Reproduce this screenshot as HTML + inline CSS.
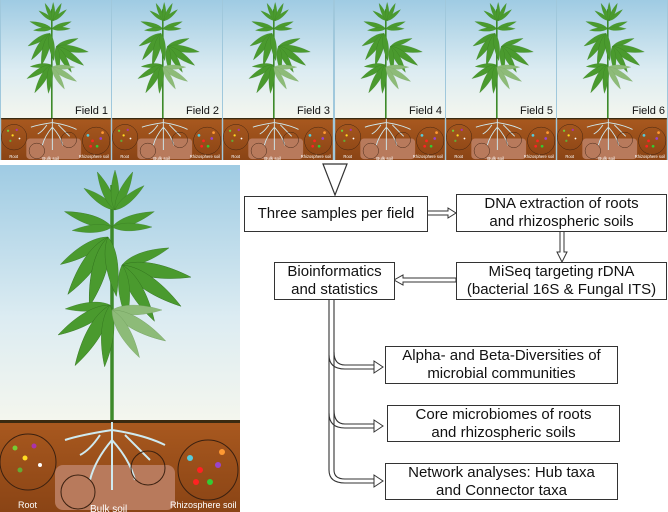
<!DOCTYPE html>
<html><head><meta charset="utf-8"><style>
body{margin:0;background:#fff;width:668px;height:512px;overflow:hidden;position:relative;font-family:"Liberation Sans",sans-serif}
.box{position:absolute;border:1.3px solid #333;background:#fff;text-align:center;font-size:15px;line-height:18px;color:#111;box-sizing:border-box;display:flex;align-items:center;justify-content:center}
</style></head><body>
<svg width="668" height="512" style="position:absolute;left:0;top:0">
<defs>
<linearGradient id="sky" x1="0" y1="0" x2="0" y2="1"><stop offset="0" stop-color="#9fcbe3"/><stop offset="0.6" stop-color="#dcecf2"/><stop offset="1" stop-color="#f4f6ee"/></linearGradient>
<linearGradient id="soil" x1="0" y1="0" x2="0" y2="1"><stop offset="0" stop-color="#a9591f"/><stop offset="1" stop-color="#8a4415"/></linearGradient>
<g id="leaf"><path d="M0,0 C15,-25 11,-65 0,-100 C-11,-65 -15,-25 0,0Z"/></g>
<symbol id="plant" viewBox="0 0 240 255">
 <path d="M112,255 L112,20" stroke="#3d8a2a" stroke-width="3.5"/>
 <g fill="#4a9a2e" stroke="#2f6e1c" stroke-width="0.6">
  <g transform="translate(115,45)"><use href="#leaf" transform="rotate(-55) scale(0.38)"/><use href="#leaf" transform="rotate(-25) scale(0.42)"/><use href="#leaf" transform="rotate(0) scale(0.4)"/><use href="#leaf" transform="rotate(25) scale(0.42)"/><use href="#leaf" transform="rotate(50) scale(0.38)"/></g>
  <g transform="translate(112,62)"><use href="#leaf" transform="rotate(-72) scale(0.5)"/><use href="#leaf" transform="rotate(-95) scale(0.4)"/><use href="#leaf" transform="rotate(70) scale(0.45)"/><use href="#leaf" transform="rotate(90) scale(0.4)"/></g>
  <g transform="translate(108,72)"><use href="#leaf" transform="rotate(240) scale(0.55)"/><use href="#leaf" transform="rotate(215) scale(0.7)"/><use href="#leaf" transform="rotate(195) scale(0.72)"/><use href="#leaf" transform="rotate(172) scale(0.6)"/></g>
  <g transform="translate(122,100)"><use href="#leaf" transform="rotate(70) scale(0.5)"/><use href="#leaf" transform="rotate(100) scale(0.7)"/><use href="#leaf" transform="rotate(125) scale(0.72)"/><use href="#leaf" transform="rotate(150) scale(0.65)"/><use href="#leaf" transform="rotate(175) scale(0.55)"/></g>
  <g transform="translate(110,140)"><use href="#leaf" transform="rotate(-95) scale(0.45)"/><use href="#leaf" transform="rotate(240) scale(0.6)"/><use href="#leaf" transform="rotate(210) scale(0.7)"/><use href="#leaf" transform="rotate(185) scale(0.62)"/></g>
  <g transform="translate(112,145)" fill="#8dbb78" stroke="#6d9a5a"><use href="#leaf" transform="rotate(90) scale(0.5)"/><use href="#leaf" transform="rotate(120) scale(0.62)"/><use href="#leaf" transform="rotate(150) scale(0.55)"/></g>
 </g>
</symbol>
<symbol id="soilg" viewBox="0 0 240 92">
 <rect width="240" height="92" fill="url(#soil)"/>
 <rect width="240" height="3" fill="#3a2a10"/>
 <rect x="55" y="45" width="120" height="45" rx="8" fill="#b87a5c"/>
 <g stroke="#cfeaf0" stroke-width="2" fill="none">
  <path d="M112,2 L112,70 M112,10 Q80,15 65,20 M112,10 Q145,15 165,25 M112,20 Q95,40 90,60 M112,20 Q130,40 135,60 M100,15 Q90,30 80,35 M125,15 Q140,30 150,40"/>
 </g>
 <g fill="none" stroke="#3a2010" stroke-width="1"><circle cx="28" cy="42" r="28"/><circle cx="208" cy="50" r="30"/><circle cx="148" cy="48" r="17"/><circle cx="78" cy="72" r="17"/></g>
 <g><circle cx="15" cy="28" r="2.5" fill="#7c3"/><circle cx="34" cy="26" r="2.5" fill="#a3a"/><circle cx="25" cy="38" r="2.5" fill="#fd2"/><circle cx="40" cy="45" r="2" fill="#fff"/><circle cx="20" cy="50" r="2.5" fill="#6a3"/><circle cx="190" cy="38" r="3" fill="#5cd"/><circle cx="200" cy="50" r="3" fill="#f22"/><circle cx="218" cy="45" r="3" fill="#94c"/><circle cx="210" cy="62" r="3" fill="#3c3"/><circle cx="222" cy="32" r="3" fill="#f93"/><circle cx="196" cy="62" r="3" fill="#f22"/></g>
 <text x="18" y="88" font-size="9" fill="#fff" font-family="Liberation Sans,sans-serif">Root</text>
 <text x="90" y="92" font-size="10" fill="#fff" font-family="Liberation Sans,sans-serif">Bulk soil</text>
 <text x="170" y="88" font-size="9" fill="#fff" font-family="Liberation Sans,sans-serif">Rhizosphere soil</text>
</symbol>
</defs>
<g>
 <rect x="0" y="0" width="668" height="160" fill="#a0c8dc"/>
 <g id="p1"><rect x="1" y="0" width="110" height="118" fill="url(#sky)"/><use href="#plant" x="0" y="0" width="111" height="118"/><use href="#soilg" x="1" y="118" width="110" height="42" preserveAspectRatio="none"/></g>
 <g transform="translate(111,0)"><use href="#p1"/></g>
 <g transform="translate(222,0)"><use href="#p1"/></g>
 <g transform="translate(334,0)"><use href="#p1"/></g>
 <g transform="translate(445,0)"><use href="#p1"/></g>
 <g transform="translate(556,0)"><use href="#p1"/></g>
 <g font-size="11" fill="#111" font-family="Liberation Sans,sans-serif" text-anchor="end">
  <text x="108" y="114">Field 1</text><text x="219" y="114">Field 2</text><text x="330" y="114">Field 3</text><text x="442" y="114">Field 4</text><text x="553" y="114">Field 5</text><text x="665" y="114">Field 6</text>
 </g>
</g>
<rect x="0" y="165" width="240" height="255" fill="url(#sky)"/>
<use href="#plant" x="0" y="165" width="240" height="255"/>
<use href="#soilg" x="0" y="420" width="240" height="92" preserveAspectRatio="none"/>
<path d="M323,164 L347,164 L335,195Z" fill="#fff" stroke="#333" stroke-width="1.2"/>
<g fill="#fff" stroke="#333" stroke-width="1">
 <path d="M427,211 L448,211 L448,208 L456,213 L448,218 L448,215 L427,215Z"/>
 <path d="M560,231 L560,252 L557,252 L562,262 L567,252 L564,252 L564,231Z"/>
 <path d="M456,278 L403,278 L403,275 L394,280 L403,285 L403,282 L456,282Z"/>
</g>
<g fill="none" stroke="#333" stroke-width="1.1">
 <path d="M329,299 L329,470 Q329,483 345,483 L374,483"/>
 <path d="M334,299 L334,470 Q334,479 345,479 L374,479"/>
 <path d="M329,355 Q329,369 345,369 L374,369"/><path d="M334,352 Q334,365 345,365 L374,365"/>
 <path d="M329,413 Q329,428 345,428 L374,428"/><path d="M334,410 Q334,424 345,424 L374,424"/>
</g>
<g fill="#fff" stroke="#333" stroke-width="1">
 <path d="M374,361 L383,367 L374,373Z"/><path d="M374,420 L383,426 L374,432Z"/><path d="M374,475 L383,481 L374,487Z"/>
</g>
</svg>
<div class="box" style="left:244px;top:196px;width:184px;height:36px">Three samples per field</div>
<div class="box" style="left:456px;top:194px;width:211px;height:38px">DNA extraction of roots<br>and rhizospheric soils</div>
<div class="box" style="left:456px;top:262px;width:211px;height:38px">MiSeq targeting rDNA<br>(bacterial 16S &amp; Fungal ITS)</div>
<div class="box" style="left:274px;top:262px;width:121px;height:38px">Bioinformatics<br>and statistics</div>
<div class="box" style="left:385px;top:346px;width:233px;height:38px">Alpha- and Beta-Diversities of<br>microbial communities</div>
<div class="box" style="left:387px;top:405px;width:233px;height:37px">Core microbiomes of roots<br>and rhizospheric soils</div>
<div class="box" style="left:385px;top:463px;width:233px;height:37px">Network analyses: Hub taxa<br>and Connector taxa</div>
</body></html>
